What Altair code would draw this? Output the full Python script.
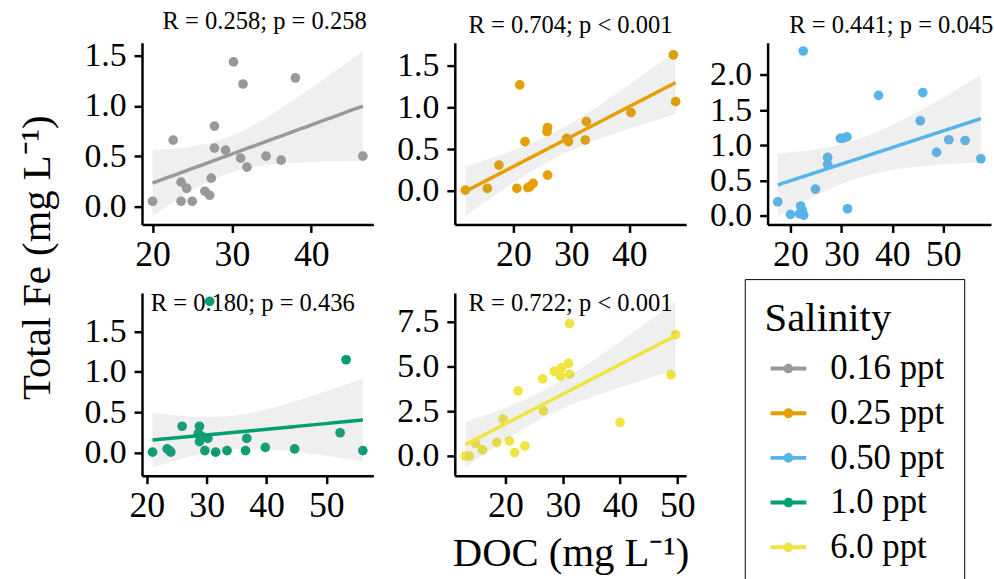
import altair as alt
import pandas as pd
import numpy as np

FONT = "Liberation Serif"

salinity = ["0.16 ppt", "0.25 ppt", "0.50 ppt", "1.0 ppt", "6.0 ppt"]
colors = ["#999999", "#E69F00", "#56B4E9", "#009E73", "#F0E442"]
stat_labels = ["R = 0.258; p = 0.258", "R = 0.704; p < 0.001", "R = 0.441; p = 0.045",
               "R = 0.180; p = 0.436", "R = 0.722; p < 0.001"]

# DOC (mg/L) and Total Fe (mg/L), per salinity
doc_016 = [20.0, 22.6, 23.6, 24.3, 23.6, 25.0, 26.6, 27.2, 27.4, 27.8, 27.8, 29.2, 30.2, 31.1, 31.4, 31.9, 34.3, 36.2, 38.0, 46.5]
fe_016 = [0.05, 0.66, 0.24, 0.18, 0.05, 0.05, 0.15, 0.11, 0.28, 0.80, 0.58, 0.56, 1.44, 0.48, 1.22, 0.39, 0.50, 0.46, 1.28, 0.50]

doc_025 = [11.7, 15.5, 17.5, 20.6, 21.1, 22.0, 22.5, 22.8, 23.4, 25.8, 25.9, 25.9, 29.2, 29.5, 32.4, 32.6, 40.3, 47.6, 48.0]
fe_025 = [0.01, 0.03, 0.31, 0.03, 1.27, 0.59, 0.04, 0.05, 0.09, 0.71, 0.76, 0.19, 0.63, 0.59, 0.61, 0.83, 0.94, 1.63, 1.07]

doc_050 = [17.5, 20.0, 21.8, 22.0, 22.3, 22.6, 22.5, 24.9, 27.3, 27.3, 29.8, 30.3, 31.1, 31.2, 37.3, 45.5, 46.0, 48.7, 51.1, 54.3, 57.4]
fe_050 = [0.20, 0.02, 0.03, 0.14, 0.08, 0.01, 2.34, 0.38, 0.83, 0.73, 1.10, 1.10, 1.12, 0.10, 1.71, 1.35, 1.75, 0.90, 1.08, 1.07, 0.81]

doc_10 = [20.95, 23.4, 23.8, 24.0, 25.9, 28.6, 28.8, 28.8, 29.1, 29.7, 30.2, 30.5, 31.5, 33.4, 36.5, 36.7, 39.8, 44.7, 52.3, 53.3, 56.1]
fe_10 = [0.01, 0.05, 0.03, 0.01, 0.33, 0.24, 0.33, 0.14, 0.21, 0.03, 0.18, 1.87, 0.01, 0.03, 0.03, 0.18, 0.07, 0.05, 0.25, 1.15, 0.03]

doc_60 = [13.0, 13.65, 14.8, 16.0, 18.5, 19.6, 20.7, 21.6, 22.2, 23.4, 26.5, 26.6, 28.5, 29.6, 29.8, 31.0, 31.2, 31.2, 40.0, 48.9, 49.7]
fe_60 = [0.0, 0.0, 0.70, 0.34, 0.75, 2.06, 0.84, 0.19, 3.64, 0.56, 4.31, 2.53, 4.74, 4.46, 4.93, 5.17, 4.57, 7.40, 1.88, 4.54, 6.78]

docs = [doc_016, doc_025, doc_050, doc_10, doc_60]
fes = [fe_016, fe_025, fe_050, fe_10, fe_60]

x_ticks = [[20, 30, 40], [20, 30, 40], [20, 30, 40, 50], [20, 30, 40, 50], [20, 30, 40, 50]]
y_ticks = [[0, 0.5, 1.0, 1.5], [0, 0.5, 1.0, 1.5], [0, 0.5, 1.0, 1.5, 2.0],
           [0, 0.5, 1.0, 1.5], [0, 2.5, 5.0, 7.5]]


def t975(df):
    z = 1.959964
    return (z + (z**3 + z) / (4 * df) + (5 * z**5 + 16 * z**3 + 3 * z) / (96 * df**2)
            + (3 * z**7 + 19 * z**5 + 17 * z**3 - 15 * z) / (384 * df**3))


def smooth(xs, ys):
    x = np.asarray(xs, float)
    y = np.asarray(ys, float)
    n = len(x)
    b, a = np.polyfit(x, y, 1)
    g = np.linspace(x.min(), x.max(), 80)
    fit = a + b * g
    s = np.sqrt(np.sum((y - (a + b * x)) ** 2) / (n - 2))
    se = s * np.sqrt(1.0 / n + (g - x.mean()) ** 2 / np.sum((x - x.mean()) ** 2))
    t = t975(n - 2)
    return pd.DataFrame({"DOC": g, "fit": fit, "lo": fit - t * se, "hi": fit + t * se})


def expand(lo, hi, m=0.05):
    r = hi - lo
    return [lo - m * r, hi + m * r]


color_scale = alt.Scale(domain=salinity, range=colors)
legend = alt.Legend(
    title="Salinity", orient="none", legendX=607, legendY=238,
    symbolType="M-1,-0.11H1V0.11H-1Z M0.27,0A0.27,0.27 0 1,1 -0.27,0A0.27,0.27 0 1,1 0.27,0Z",
    symbolSize=1296, symbolStrokeWidth=0, symbolOpacity=1, symbolOffset=6,
    labelFont=FONT, labelFontSize=35, labelColor="black", labelOffset=24,
    titleFont=FONT, titleFontSize=41, titleFontWeight="normal", titleColor="black",
    titlePadding=11, rowPadding=9, padding=20, strokeColor="black",
)


def panel(i, w, h, t_offset, t_dx, xtitle=None):
    df = pd.DataFrame({"DOC": docs[i], "Fe": fes[i], "Salinity": salinity[i]})
    sm = smooth(docs[i], fes[i])
    sm["Salinity"] = salinity[i]
    xdom = expand(min(docs[i]), max(docs[i]))
    ylo = min(min(fes[i]), sm["lo"].min())
    yhi = max(max(fes[i]), sm["hi"].max())
    ydom = expand(ylo, yhi)
    xs = alt.Scale(domain=xdom, nice=False, zero=False)
    ys = alt.Scale(domain=ydom, nice=False, zero=False)
    xaxis = alt.Axis(values=x_ticks[i], title=xtitle if xtitle else None, format="d")
    yaxis = alt.Axis(values=y_ticks[i], title=None, format=".1f")
    pts = alt.Chart(df).mark_circle(size=95, opacity=1).encode(
        x=alt.X("DOC:Q", scale=xs, axis=xaxis),
        y=alt.Y("Fe:Q", scale=ys, axis=yaxis),
        color=alt.Color("Salinity:N", scale=color_scale, legend=legend),
    )
    band = alt.Chart(sm).mark_area(color="#999999", opacity=0.16).encode(
        x=alt.X("DOC:Q", scale=xs, axis=xaxis),
        y=alt.Y("lo:Q", scale=ys, axis=yaxis),
        y2="hi:Q",
    )
    line = alt.Chart(sm).mark_line(strokeWidth=3.5).encode(
        x=alt.X("DOC:Q", scale=xs, axis=xaxis),
        y=alt.Y("fit:Q", scale=ys, axis=yaxis),
        color=alt.Color("Salinity:N", scale=color_scale, legend=legend),
    )
    return alt.layer(pts, band, line).properties(
        width=w, height=h,
        title=alt.TitleParams(stat_labels[i], font=FONT, fontSize=24.7, fontWeight="normal",
                              color="black", anchor="middle", frame="group",
                              offset=t_offset, dx=t_dx),
    )


p1 = panel(0, 233, 183, 5, 7)
p2 = panel(1, 233, 183, 5, 0)
p3 = panel(2, 225, 183, 5, 12)
p4 = panel(3, 233, 184, -23, -5)
p5 = panel(4, 233, 184, -23, 0, xtitle="DOC (mg L⁻¹)")

chart = alt.concat(
    p1, p2, p3, p4, p5, columns=3, spacing={"row": 69, "column": 82}, bounds="flush"
).properties(
    title=alt.TitleParams("Total Fe (mg L⁻¹)", orient="left", anchor="middle", font=FONT,
                          fontSize=41, fontWeight="normal", color="black", offset=25, dx=40),
    padding={"left": 17, "top": 7, "right": 0, "bottom": 0},
).resolve_scale(
    x="independent", y="independent", color="shared"
).configure(
    font=FONT
).configure_view(
    stroke=None
).configure_axis(
    domainColor="black", domainWidth=2.5, tickColor="black", tickWidth=2.5, tickSize=8,
    labelFont=FONT, labelColor="black", grid=False, labelOverlap=False,
    titleFont=FONT, titleFontSize=41, titleFontWeight="normal", titleColor="black", titlePadding=10,
).configure_axisX(
    labelPadding=5, labelFontSize=36
).configure_axisY(
    labelPadding=8, labelFontSize=34
)

chart.save("out.html", embed_options={"renderer": "svg", "actions": False})
